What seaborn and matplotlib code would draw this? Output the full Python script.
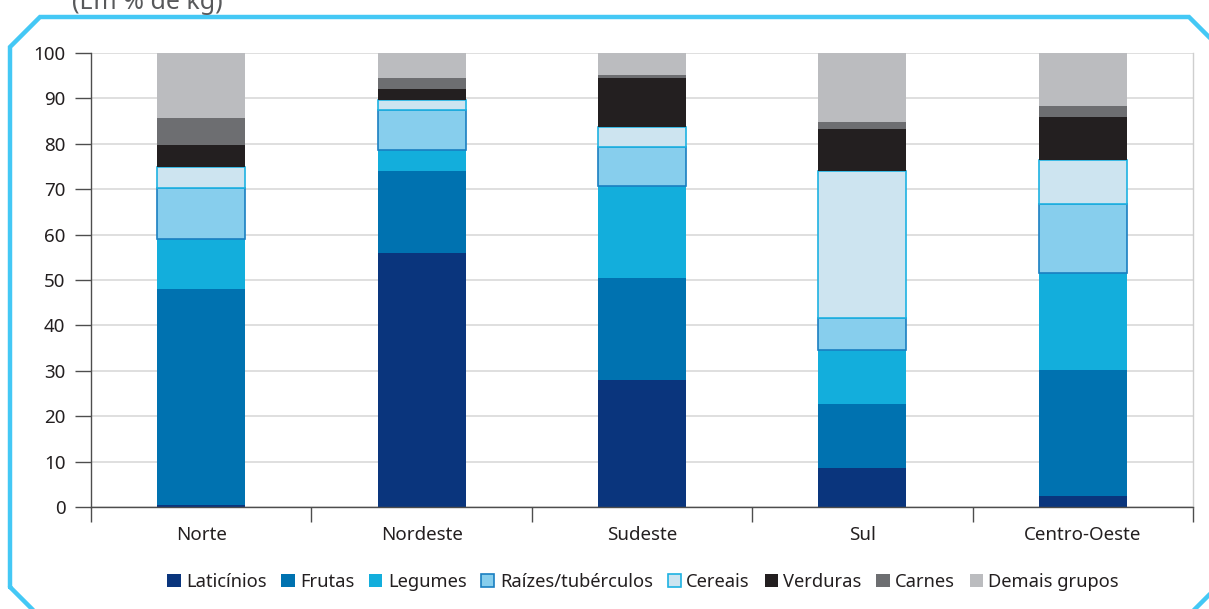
import numpy as np
import pandas as pd
import matplotlib
matplotlib.use("Agg")
import matplotlib.pyplot as plt
from matplotlib.patches import Patch
from matplotlib.lines import Line2D
import seaborn as sns

regioes = ["Norte", "Nordeste", "Sudeste", "Sul", "Centro-Oeste"]
grupos = ["Laticínios", "Frutas", "Legumes", "Raízes/tubérculos",
          "Cereais", "Verduras", "Carnes", "Demais grupos"]

laticinios = [0.5, 56.0, 28.0, 8.6, 2.4]
frutas = [47.5, 18.0, 22.5, 14.0, 27.8]
legumes = [11.0, 4.6, 20.1, 11.9, 21.3]
raizes = [11.3, 8.8, 8.8, 7.1, 15.2]
cereais = [4.5, 2.3, 4.4, 32.4, 9.7]
verduras = [4.9, 2.3, 10.6, 9.3, 9.6]
carnes = [5.9, 2.4, 0.8, 1.6, 2.3]
demais = [14.4, 5.6, 4.8, 15.1, 11.7]

series = [laticinios, frutas, legumes, raizes, cereais, verduras, carnes, demais]
yticks = [0, 10, 20, 30, 40, 50, 60, 70, 80, 90, 100]
subtitulo = "(Em % de kg)"

cores = ["#0a357d", "#0072b0", "#13aedc", "#87ceed",
         "#cde4f0", "#231f20", "#6d6e71", "#bbbcbf"]
bordas = [None, None, None, "#1a7fc1", "#1eb2e2", None, None, None]

sns.set_theme(style="white")
plt.rcParams["font.family"] = ["Noto Sans", "DejaVu Sans"]

fig = plt.figure(figsize=(12.09, 6.09), dpi=100)
ax = fig.add_axes([91 / 1209, 1 - 507 / 609, (1193 - 91) / 1209, (507 - 53) / 609])

base = np.zeros(len(regioes))
for nome, vals, cor, borda in zip(grupos, series, cores, bordas):
    df = pd.DataFrame({"regiao": regioes, "valor": vals})
    kw = dict(edgecolor=borda, linewidth=1.2) if borda else dict(linewidth=0)
    sns.barplot(data=df, x="regiao", y="valor", order=regioes, color=cor,
                saturation=1, width=0.4, bottom=base.copy(), ax=ax, **kw)
    base += np.array(vals)

ax.set_xlim(-0.5, len(regioes) - 0.5)
ax.set_ylim(0, 100)
ax.set_yticks(yticks)
ax.set_xlabel("")
ax.set_ylabel("")
ax.yaxis.grid(True, color="#d9d9d9", linewidth=1.2)
ax.set_axisbelow(True)

ax.tick_params(axis="y", which="major", direction="out", length=11.5, width=1,
               color="#4d4d4d", labelsize=13.5, labelcolor="#231f20", pad=7, left=True)
ax.tick_params(axis="x", which="major", length=0, labelsize=13.5,
               labelcolor="#231f20", pad=14)
ax.set_xticks(np.arange(-0.5, len(regioes)), minor=True)
ax.tick_params(axis="x", which="minor", direction="out", length=11, width=1,
               color="#4d4d4d", bottom=True)

for s in ["left", "bottom"]:
    ax.spines[s].set_color("#4d4d4d")
    ax.spines[s].set_linewidth(1)
ax.spines["right"].set_color("#cfcfcf")
ax.spines["right"].set_linewidth(1)
ax.spines["top"].set_visible(False)

handles = []
for nome, cor, borda in zip(grupos, cores, bordas):
    handles.append(Patch(facecolor=cor, edgecolor=borda if borda else cor,
                         linewidth=1.2 if borda else 0, label=nome))
fig.legend(handles=handles, loc="center", bbox_to_anchor=(0.532, 1 - 582 / 609),
           ncol=8, frameon=False, fontsize=13.2, handlelength=0.72,
           handleheight=0.72, handletextpad=0.3, columnspacing=0.8,
           labelcolor="#231f20")

# moldura azul
px = [10, 10, 40, 1189, 1222, 1222, 1174, 53, 10]
py = [587, 47, 17, 17, 50, 582, 630, 630, 587]
fig.add_artist(Line2D([x / 1209 for x in px], [1 - y / 609 for y in py],
                      color="#44c8f5", linewidth=3.2, solid_joinstyle="miter",
                      clip_on=False))

fig.text(72 / 1209, 1 - 15 / 609, subtitulo, fontsize=18, color="#58595b",
         ha="left", va="bottom")

fig.savefig("out.png", dpi=100)
